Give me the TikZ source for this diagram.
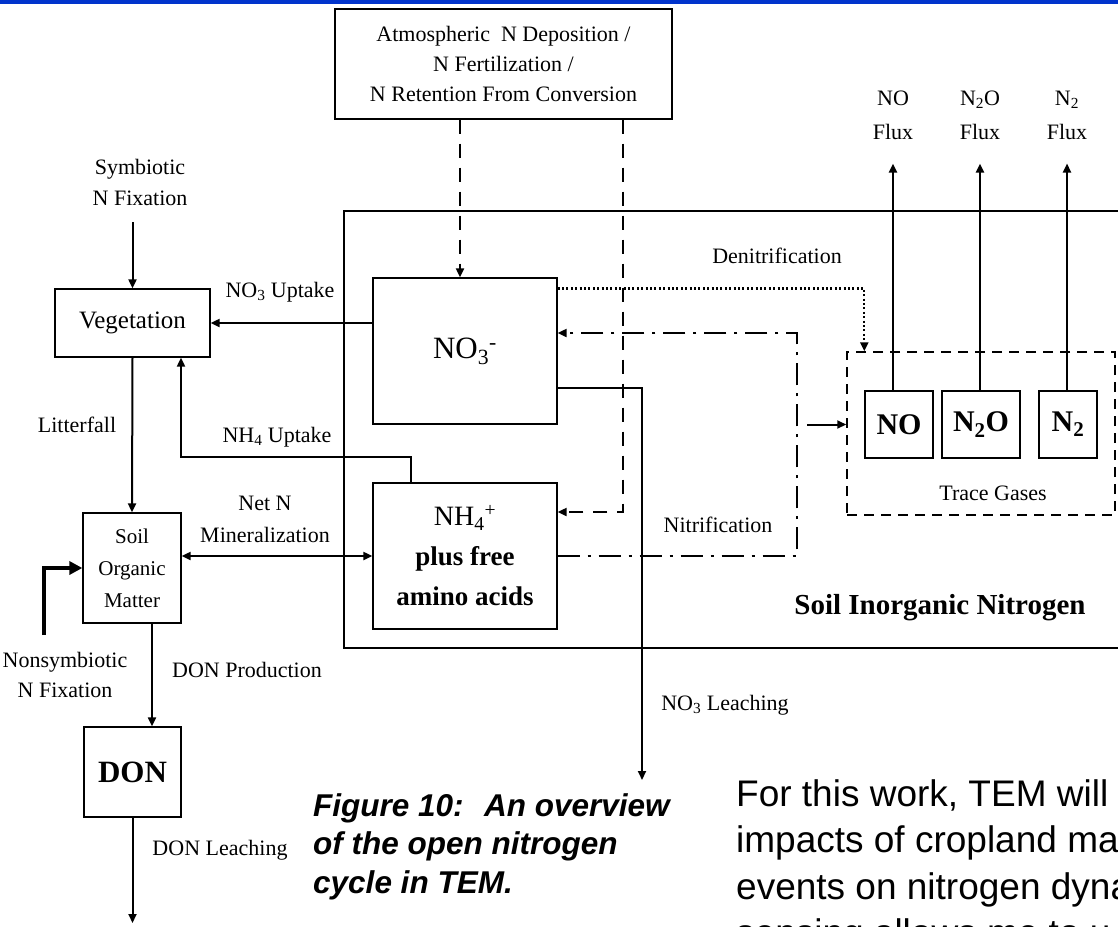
\documentclass[tikz,border=0pt]{standalone}
\usepackage{fontspec}
\setmainfont{Liberation Serif}
\newfontfamily\slidefont{Liberation Sans}
\usetikzlibrary{arrows.meta, positioning, calc}
\definecolor{slideblue}{HTML}{0033CC}
\tikzset{
  box/.style={draw, line width=1.3pt, inner sep=0pt, align=center},
  lbl/.style={inner sep=0pt, align=center, font=\fontsize{22}{31}\selectfont},
  flow/.style={-{Triangle[length=9pt,width=8pt]}, line width=2pt},
  deposit/.style={flow, dash pattern=on 14pt off 10pt},
  denit/.style={flow, line width=2.4pt, dash pattern=on 2pt off 2.4pt},
  nitrif/.style={flow, dash pattern=on 22pt off 8pt on 3pt off 8pt}
}
\begin{document}
\begin{tikzpicture}[x=1pt, y=-1pt]
  \useasboundingbox (0,0) rectangle (1118,926);
  \clip (0,0) rectangle (1118,926);
  % Slide header bar
  \fill[slideblue] (0,0) rectangle (1118,3.5);

  % External N input
  \node[box, minimum width=337pt, minimum height=110pt,
        font=\fontsize{22}{30}\selectfont] (src) at (503.5,64)
        {Atmospheric~ N Deposition /\\N Fertilization /\\N Retention From Conversion};

  % Soil inorganic nitrogen pool
  \node[draw, line width=1.5pt, inner sep=0pt, minimum width=786pt,
        minimum height=437pt] (sin) at (737,429.5) {};
  \node[font=\fontsize{29}{34}\selectfont\bfseries, inner sep=0pt] (sinlbl)
        at (940,608) {Soil Inorganic Nitrogen};
  \node[box, minimum width=184pt, minimum height=146pt,
        font=\fontsize{31}{36}\selectfont] (no3) at (465,351)
        {NO\textsubscript{3}\textsuperscript{-}};
  \node[box, minimum width=184pt, minimum height=146pt,
        font=\fontsize{27}{40}\selectfont] (nh4) at (465,556)
        {\fontsize{28}{40}\selectfont NH\textsubscript{4}\textsuperscript{+}\\
         \bfseries plus free\\ \bfseries amino acids};

  % Trace gases
  \node[draw, line width=1.5pt, dash pattern=on 10pt off 7pt, inner sep=0pt,
        minimum width=268pt, minimum height=163pt] (trace) at (981,433.5) {};
  \node[box, minimum width=68pt, minimum height=67pt,
        font=\fontsize{30}{34}\selectfont\bfseries] (no) at (899,424.5) {NO};
  \node[box, minimum width=78pt, minimum height=67pt,
        font=\fontsize{30}{34}\selectfont\bfseries] (n2o) at (981,424.5)
        {N\textsubscript{2}O};
  \node[box, minimum width=58pt, minimum height=67pt,
        font=\fontsize{30}{34}\selectfont\bfseries] (n2) at (1068,424.5)
        {N\textsubscript{2}};
  \node[lbl] (tracelbl) at (993,493) {Trace Gases};
  \node[lbl, font=\fontsize{22}{34}\selectfont] (noflux) at (893,115) {NO\\Flux};
  \node[lbl, font=\fontsize{22}{34}\selectfont] (n2oflux) at (980,115)
        {N\textsubscript{2}O\\Flux};
  \node[lbl, font=\fontsize{22}{34}\selectfont] (n2flux) at (1067,115)
        {N\textsubscript{2}\\Flux};

  % Vegetation and organic pools
  \node[box, minimum width=155pt, minimum height=68pt,
        font=\fontsize{25}{30}\selectfont] (veg) at (132.5,323) {Vegetation};
  \node[box, minimum width=98pt, minimum height=110pt,
        font=\fontsize{21}{32}\selectfont] (som) at (132,568)
        {Soil\\Organic\\Matter};
  \node[box, minimum width=97pt, minimum height=90pt,
        font=\fontsize{31}{34}\selectfont\bfseries] (don) at (132.5,772) {DON};

  % Flux labels
  \node[lbl] (symb) at (140,182) {Symbiotic\\N Fixation};
  \node[lbl] (no3up) at (280,292) {NO\textsubscript{3} Uptake};
  \node[lbl] (nh4up) at (277,437) {NH\textsubscript{4} Uptake};
  \node[lbl] (litter) at (77,425) {Litterfall};
  \node[lbl, font=\fontsize{22}{32}\selectfont] (netmin) at (265,519)
        {Net N\\Mineralization};
  \node[lbl, font=\fontsize{22}{30}\selectfont] (nsym) at (65,675)
        {Nonsymbiotic\\N Fixation};
  \node[lbl] (donprod) at (247,670) {DON Production};
  \node[lbl] (donleach) at (220,850) {DON Leaching};
  \node[lbl] (no3leach) at (725,705) {NO\textsubscript{3} Leaching};
  \node[lbl] (denitlbl) at (777,256) {Denitrification};
  \node[lbl] (nitrlbl) at (718,525) {Nitrification};

  % Free ends and bends
  \coordinate (symbin) at (132.5,222);
  \coordinate (nsymin) at (44,635);
  \coordinate (donout) at (132.5,923);
  \coordinate (no3out) at (642,780);
  \coordinate (nhbend) at (181,457);
  \coordinate (dep1) at ([xshift=-5pt]no3.north);
  \coordinate (dep2) at (623,512);
  \coordinate (nitlo) at (797,556);
  \coordinate (nithi) at (797,333);
  \coordinate (gasin) at (807,424.5);

  % Organic side
  \draw[flow] (symbin) -- (veg.north);
  \draw[flow] (no3.west |- veg.east) -- (veg.east);
  \draw[flow] ([xshift=39pt]nh4.north west) |- (nhbend) -- (nhbend |- veg.south);
  \draw[flow] (veg.south) -- (som.north);
  \draw[{Triangle[length=9pt,width=8pt]}-{Triangle[length=9pt,width=8pt]},
        line width=2pt] (nh4.west -| som.east) -- (nh4.west);
  \draw[-{Triangle[length=13pt,width=13pt]}, line width=4pt] (nsymin) |- (som.west);
  \draw[flow] ([xshift=20pt]som.south) -- ([xshift=20pt]som.south |- don.north);
  \draw[flow] (don.south) -- (donout);

  % Inorganic side
  \draw[deposit] (src.south -| dep1) -- (dep1);
  \draw[deposit] (src.south -| dep2) |- (nh4.east |- dep2);
  \draw[flow] ([yshift=-37pt]no3.east) -| (no3out);
  \draw[denit] ([yshift=-11pt]no3.north east) -| ([xshift=18pt]trace.north west);
  \draw[nitrif] (nh4.east |- nitlo) -- (nitlo) -- (nithi) -- (no3.east |- nithi);
  \draw[flow] (gasin) -- (gasin -| trace.west);
  \foreach \g in {no, n2o, n2}
    \draw[flow, shorten >=24pt] (\g.north -| \g flux) -- (\g flux.south);

  % Caption and slide text
  \node[anchor=north west, align=left, inner sep=0pt,
        font=\slidefont\fontsize{31.5}{38.5}\selectfont\bfseries\itshape] (caption)
        at (313,793) {Figure 10:~ An overview\\of the open nitrogen\\cycle in TEM.};
  \node[anchor=north west, align=left, inner sep=0pt,
        font=\slidefont\fontsize{37}{46.5}\selectfont] (body) at (736,779)
        {For this work, TEM will\\impacts of cropland ma\\events on nitrogen dyna\\sensing allows me to u};
\end{tikzpicture}
\end{document}
